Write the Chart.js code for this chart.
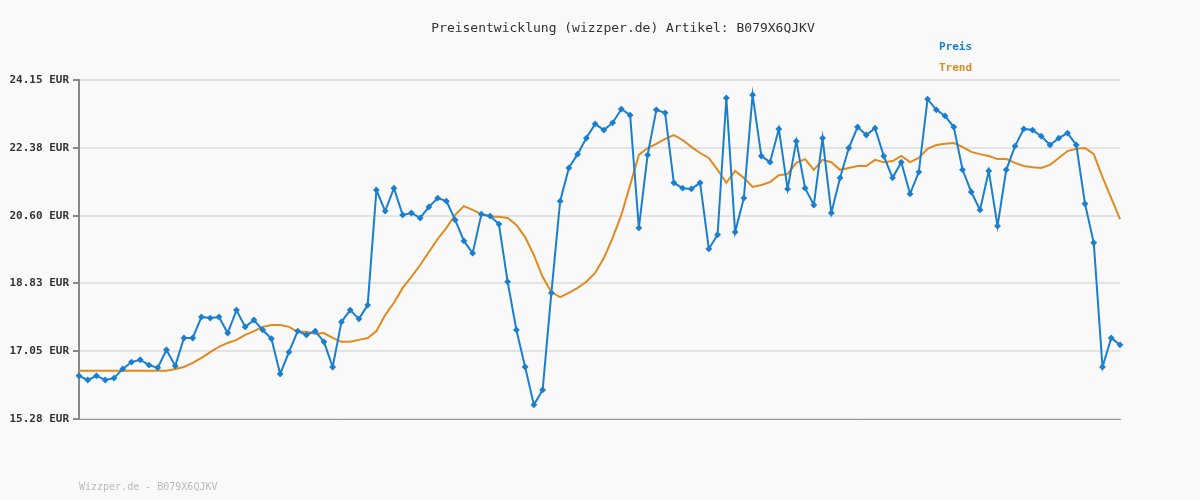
<!DOCTYPE html>
<html><head><meta charset="utf-8">
<script src="https://cdn.jsdelivr.net/npm/chart.js@4"></script>
<style>
body{margin:0;background:#f9f9f9;font-family:"DejaVu Sans Mono",monospace;}
#wrap{position:relative;width:1200px;height:500px;}
.t{position:absolute;white-space:nowrap;}
</style></head><body>
<div id="wrap">
<canvas id="c" width="1200" height="500"></canvas>
<div class="t" style="left:0;width:1246px;text-align:center;top:20px;font-size:13px;color:#333;">Preisentwicklung (wizzper.de) Artikel: B079X6QJKV</div>
<div class="t" style="left:939px;top:40px;font-size:11px;font-weight:bold;color:#1a7fcf;">Preis</div>
<div class="t" style="left:939px;top:61px;font-size:11px;font-weight:bold;color:#e08a1e;">Trend</div>
<div class="t" style="left:79px;top:481px;font-size:10px;color:#bbb;">Wizzper.de - B079X6QJKV</div>
</div>
<script>
const preis=[16.41,16.30,16.41,16.30,16.35,16.59,16.77,16.83,16.69,16.62,17.09,16.67,17.40,17.40,17.95,17.92,17.95,17.53,18.13,17.69,
17.87,17.61,17.38,16.46,17.03,17.58,17.48,17.58,17.30,16.64,17.82,18.13,17.90,18.26,21.27,20.72,21.32,20.62,20.67,20.54,
20.83,21.06,20.98,20.49,19.94,19.62,20.64,20.59,20.38,18.87,17.61,16.64,15.65,16.04,18.58,20.98,21.85,22.21,22.63,23.00,
22.84,23.03,23.39,23.23,20.28,22.19,23.37,23.29,21.46,21.32,21.30,21.46,19.73,20.10,23.68,20.17,21.06,23.76,22.16,22.00,
22.87,21.30,22.55,21.32,20.88,22.63,20.67,21.59,22.37,22.92,22.71,22.89,22.16,21.59,22.00,21.17,21.74,23.65,23.37,23.21,
22.92,21.80,21.22,20.75,21.77,20.33,21.80,22.42,22.87,22.84,22.68,22.45,22.63,22.76,22.45,20.91,19.89,16.64,17.40,17.22];
const trend=[16.54,16.54,16.54,16.54,16.54,16.54,16.54,16.54,16.54,16.54,16.54,16.59,16.64,16.75,16.88,17.03,17.17,17.27,17.35,17.48,
17.58,17.69,17.74,17.74,17.69,17.56,17.56,17.51,17.53,17.40,17.30,17.30,17.35,17.40,17.58,18.00,18.32,18.71,19.00,19.31,
19.65,19.99,20.28,20.62,20.85,20.75,20.64,20.57,20.57,20.54,20.36,20.04,19.57,19.00,18.60,18.47,18.58,18.71,18.87,19.10,
19.49,20.02,20.62,21.40,22.19,22.37,22.48,22.61,22.71,22.58,22.40,22.24,22.11,21.80,21.46,21.77,21.59,21.35,21.40,21.48,
21.66,21.69,21.98,22.08,21.80,22.06,22.00,21.80,21.85,21.90,21.90,22.06,22.00,22.03,22.16,22.00,22.11,22.35,22.45,22.48,
22.50,22.40,22.27,22.21,22.16,22.08,22.08,21.98,21.90,21.87,21.85,21.93,22.11,22.29,22.35,22.37,22.21,21.61,21.06,20.51];
const tickValues=[15.28,17.05,18.83,20.60,22.38,24.15];
const labels=preis.map((_,i)=>i+1);
new Chart(document.getElementById('c'),{
type:'line',
data:{labels,datasets:[
{label:'Trend',data:trend,borderColor:'#e08a1e',borderWidth:2,pointRadius:0,tension:0,order:2},
{label:'Preis',data:preis,borderColor:'#1a7fcf',borderWidth:2,pointRadius:2,pointStyle:'rectRot',pointBackgroundColor:'#1a7fcf',pointBorderColor:'#1a7fcf',tension:0,order:1}
]},
options:{responsive:false,animation:false,
layout:{padding:{left:0,right:80,top:80,bottom:81}},
plugins:{legend:{display:false},title:{display:false},tooltip:{enabled:false}},
scales:{
x:{ticks:{display:false},grid:{display:false},border:{color:'#999',width:1},afterFit(a){a.height=0;}},
y:{min:15.28,max:24.15,afterBuildTicks(a){a.ticks=tickValues.map(v=>({value:v}));},
ticks:{callback:v=>v.toFixed(2)+' EUR',color:'#333',font:{family:'DejaVu Sans Mono',size:11,weight:'bold'},padding:4},
grid:{color:'#e3e3e3',lineWidth:2,tickLength:6,tickColor:'#888'},border:{color:'#888',width:2},
afterFit(a){a.width=79;}}
}}});
</script></body></html>
